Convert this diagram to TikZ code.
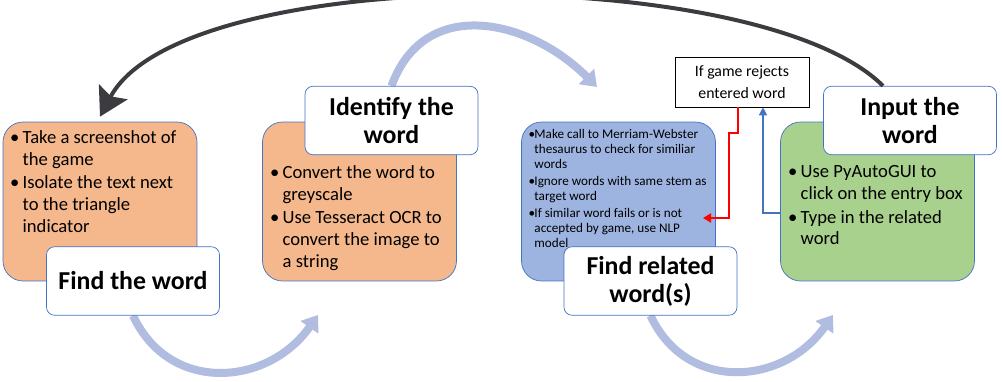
\documentclass[tikz,border=0pt]{standalone}
\usepackage{fontspec}
\setmainfont{Carlito}
\usetikzlibrary{arrows.meta,positioning,backgrounds}

\definecolor{accent}{RGB}{68,114,196}
\definecolor{findfill}{RGB}{245,183,140}
\definecolor{relfill}{RGB}{157,179,224}
\definecolor{inputfill}{RGB}{169,209,142}
\definecolor{arcblue}{RGB}{176,189,224}
\definecolor{backgray}{RGB}{60,60,64}

\newlength\bulw
\newcommand\bodyfont{\fontsize{10.6}{12.3}\selectfont\setlength\bulw{0.68em}}
\newcommand\smallbody{\fontsize{7.5}{8.5}\selectfont\setlength\bulw{0.45em}}
\newcommand\titlefont{\fontsize{14.7}{15.9}\selectfont\bfseries}
\newcommand\gatefont{\fontsize{9}{12.3}\selectfont}
\newcommand\bul{\par\hangindent=\bulw\hangafter=1\noindent\makebox[\bulw][l]{\textbullet}}
% #1 left skip, #2 space above first bullet, #3 bullets
\newcommand\steptext[3]{\parbox[c][3.18cm][t]{3.88cm}{\raggedright\leftskip=#1\parskip=1.2pt\vspace*{#2}#3}}

\begin{document}
\begin{tikzpicture}[x=0.02cm, y=-0.02cm,
    stepbox/.style={draw=accent, rounded corners=0.4cm, inner sep=0pt},
    titlebox/.style={draw=accent, fill=white, rounded corners=0.16cm, minimum width=3.46cm,
      minimum height=1.37cm, align=center, inner sep=0pt, font=\titlefont},
    flow/.style={arcblue, line width=0.16cm, -{Triangle[length=0.3cm, width=0.42cm]}}]
  \useasboundingbox (0,0) rectangle (1002,382);

  % step boxes
  \node[stepbox, fill=findfill] (findbox) at (100,201.5) {\steptext{0.14cm}{0.13cm}{\bodyfont
    \bul Take a screenshot of\newline the game
    \bul Isolate the text next\newline to the triangle\newline indicator}};
  \node[stepbox, fill=findfill] (idbox) at (359.5,201.5) {\steptext{0.15cm}{0.83cm}{\bodyfont
    \bul Convert the word to\newline greyscale
    \bul Use Tesseract OCR to\newline convert the image to\newline a string}};
  \node[stepbox, fill=relfill] (relbox) at (618.5,201.5) {\steptext{0.14cm}{0.1cm}{\smallbody
    \bul Make call to Merriam-Webster\newline thesaurus to check for similiar\newline words
    \bul Ignore words with same stem as\newline target word
    \bul If similar word fails or is not\newline accepted by game, use NLP\newline model}};
  \node[stepbox, fill=inputfill] (inbox) at (877.5,201.5) {\steptext{0.15cm}{0.83cm}{\bodyfont
    \bul Use PyAutoGUI to\newline click on the entry box
    \bul Type in the related\newline word}};

  % titles
  \node[titlebox] (findttl) at (133,281) {Find the word};
  \node[titlebox] (idttl) at (391.5,120.5) {Identify the\\word};
  \node[titlebox] (relttl) at (650.5,281) {Find related\\word(s)};
  \node[titlebox] (inttl) at (910,120.5) {Input the\\word};

  \node[draw, fill=white, minimum width=2.68cm, minimum height=1cm, inner sep=0pt,
    align=center, font=\gatefont] (gate) at (742,82) {If game rejects\\entered word};

  \coordinate (tipa) at (318,315);
  \coordinate (tipb) at (597,87);
  \coordinate (tipc) at (833,315);
  \coordinate (retry) at (703,218);

  % step to step
  \begin{scope}[on background layer]
    \draw[flow] (findttl.south) to[out=-65, in=-125, looseness=1.2] (tipa);
    \draw[flow] (idttl.north) to[out=70, in=135, looseness=1.2] (tipb);
    \draw[flow] (relttl.south) to[out=-65, in=-125, looseness=1.2] (tipc);
  \end{scope}

  % back to the start
  \draw[backgray, line width=0.08cm, -{Stealth[length=0.56cm, width=0.64cm, inset=0.1cm]}]
    ([xshift=-0.54cm]inttl.north) to[out=135, in=62, looseness=0.57] ([yshift=0.1cm]findbox.north);

  % rejected word loop
  \draw[red, line width=0.04cm, -{Triangle[length=0.16cm, width=0.18cm]}]
    ([xshift=-0.08cm]gate.south) -- ++(0,26) -- ++(-9,0) |- (retry);
  \draw[accent, line width=0.03cm, -{Triangle[length=0.16cm, width=0.16cm]}]
    ([yshift=-0.23cm]inbox.west) -| ([xshift=0.42cm]gate.south);
\end{tikzpicture}
\end{document}
